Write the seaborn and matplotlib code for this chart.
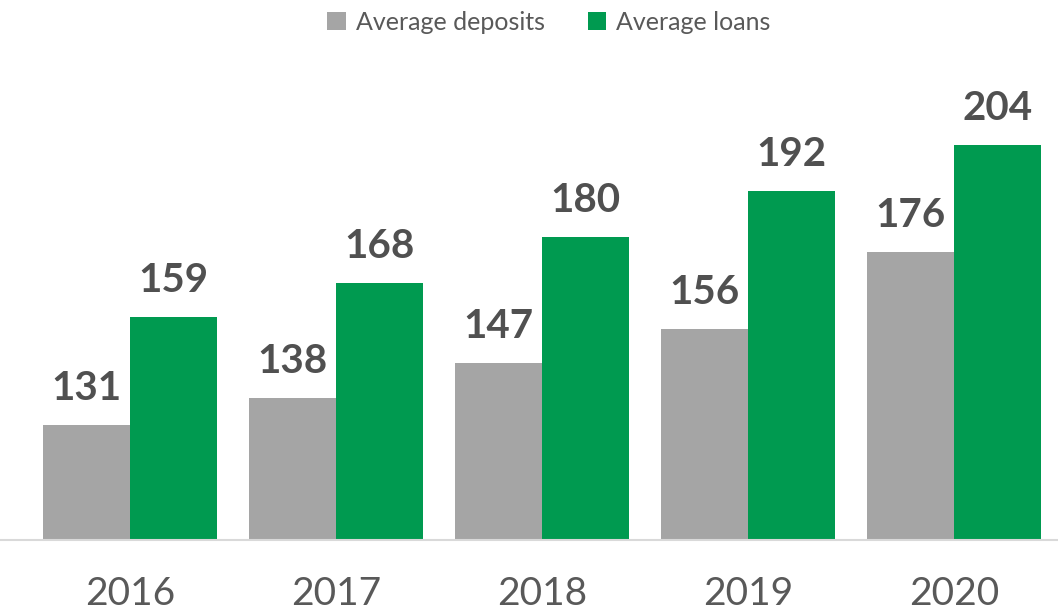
import pandas as pd
import seaborn as sns
import matplotlib.pyplot as plt

years = ["2016", "2017", "2018", "2019", "2020"]
deposits = [131, 138, 147, 156, 176]
loans = [159, 168, 180, 192, 204]
series_names = ["Average deposits", "Average loans"]
colors = ["#A5A5A5", "#009A50"]

df = pd.DataFrame({
    "year": years * 2,
    "value": deposits + loans,
    "series": [series_names[0]] * len(years) + [series_names[1]] * len(years),
})

sns.set_style("white")
plt.rcParams["font.family"] = ["Lato", "DejaVu Sans"]

fig = plt.figure(figsize=(10.58, 6.15), dpi=100)
ax = fig.add_axes([0, 75 / 615, 1, 500 / 615])

sns.barplot(data=df, x="year", y="value", hue="series", palette=colors,
            width=0.845, gap=0, saturation=1, linewidth=0, ax=ax, legend=True)

for cont in ax.containers:
    ax.bar_label(cont, fontsize=29, fontweight="bold", color="#505050", padding=13)

# value axis does not start at zero in the original
ax.set_xlim(-0.631, 4.505)
ax.set_ylim(101, 231.3)
ax.set_yticks([])
ax.set_xlabel("")
ax.set_ylabel("")
for s in ["top", "right", "left"]:
    ax.spines[s].set_visible(False)
ax.spines["bottom"].set_color("#D9D9D9")
ax.spines["bottom"].set_linewidth(1.5)
ax.tick_params(axis="x", length=0, pad=26, labelsize=28, labelcolor="#595959")

handles, labels = ax.get_legend_handles_labels()
ax.legend_.remove()
fig.legend(handles, labels, loc="center", bbox_to_anchor=(549 / 1058, 1 - 22 / 615),
           ncol=2, frameon=False, fontsize=18, labelcolor="#595959",
           handlelength=0.75, handleheight=0.75, handletextpad=0.4, columnspacing=1.7)

fig.savefig("out.png", dpi=100)
